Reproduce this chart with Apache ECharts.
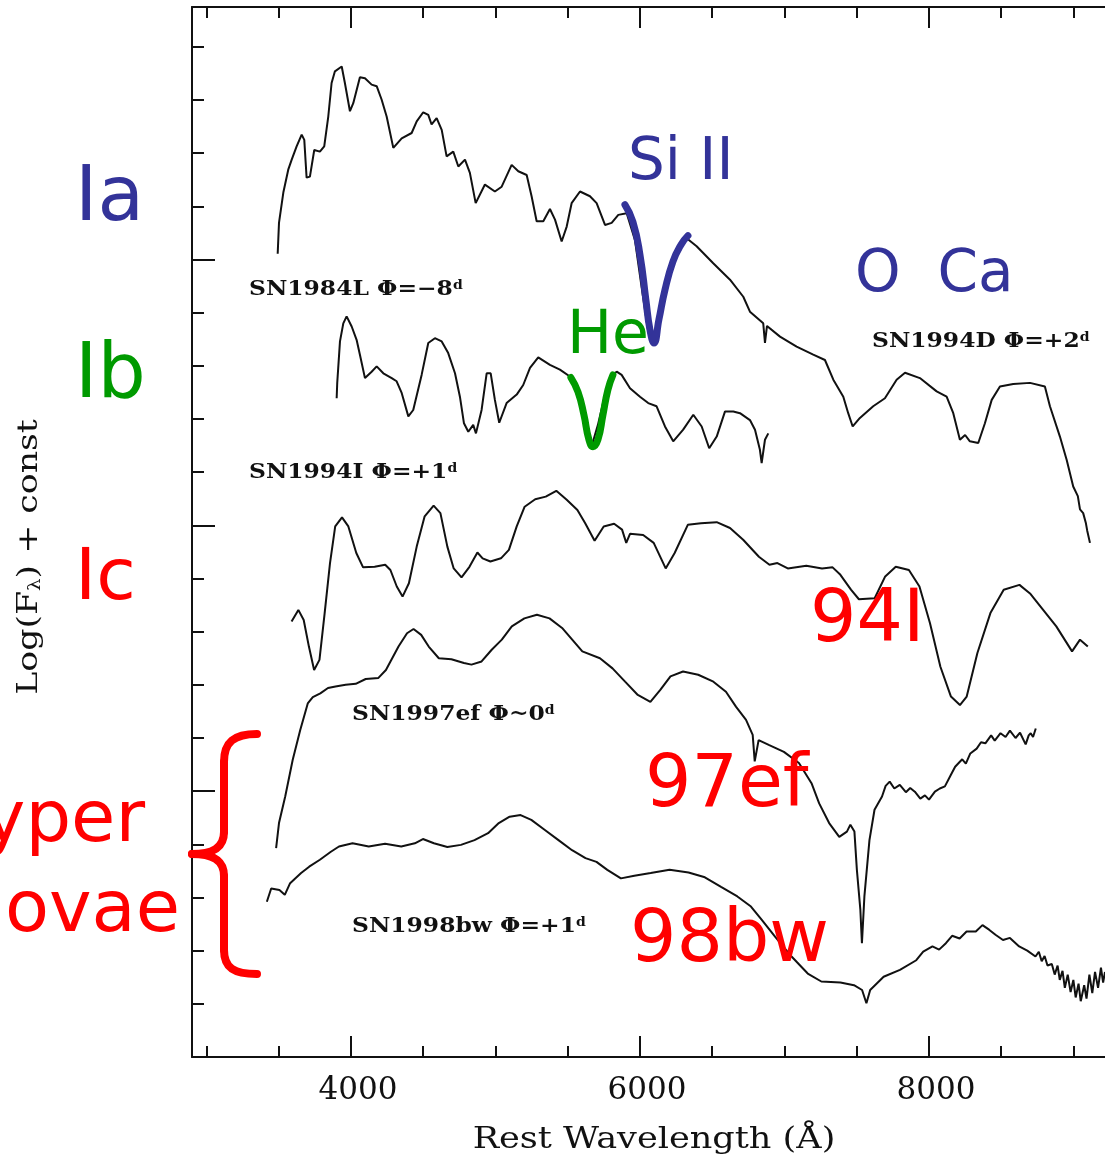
<!DOCTYPE html>
<html>
<head>
<meta charset="utf-8">
<script src="https://cdn.jsdelivr.net/npm/echarts@6/dist/echarts.min.js"></script>
<style>
  html, body { margin: 0; padding: 0; background: #ffffff; }
  #chart { width: 1105px; height: 1157px; }
</style>
</head>
<body>
<div id="chart"></div>
<script>
// Spectra: [rest wavelength (Å), log F + offset] — offsets stack the spectra vertically.
const sn1994D = [
  [3493,15.11],[3502,15.69],[3532,16.26],[3566,16.69],[3590,16.88],[3624,17.13],[3659,17.35],[3677,17.25],
  [3693,16.54],[3716,16.56],[3746,17.06],[3785,17.03],[3815,17.13],[3843,17.69],[3866,18.32],[3889,18.54],
  [3936,18.63],[3958,18.32],[3993,17.79],[4016,17.94],[4062,18.43],[4097,18.41],[4143,18.29],[4178,18.26],
  [4212,18.01],[4247,17.69],[4293,17.10],[4351,17.28],[4420,17.38],[4455,17.60],[4500,17.77],[4535,17.72],
  [4558,17.54],[4593,17.66],[4628,17.44],[4662,16.94],[4708,17.03],[4743,16.75],[4789,16.88],[4823,16.63],
  [4863,16.06],[4927,16.41],[4996,16.28],[5043,16.37],[5112,16.78],[5158,16.66],[5216,16.59],[5250,16.19],
  [5285,15.72],[5331,15.72],[5377,15.95],[5412,15.75],[5458,15.34],[5493,15.62],[5527,16.06],[5585,16.28],
  [5654,16.19],[5700,16.06],[5758,15.65],[5804,15.69],[5850,15.84],[5908,15.87],[5965,15.37],[6014,14.43],
  [6055,13.68],[6090,13.40],[6124,13.87],[6173,14.52],[6242,15.09],[6323,15.40],[6392,15.25],[6507,14.93],
  [6623,14.62],[6715,14.30],[6761,14.02],[6853,13.80],[6865,13.43],[6879,13.75],[6969,13.55],[7084,13.36],
  [7199,13.21],[7280,13.11],[7338,12.74],[7407,12.42],[7441,12.11],[7472,11.86],[7522,12.02],[7614,12.24],
  [7695,12.39],[7776,12.74],[7834,12.87],[7937,12.77],[8053,12.52],[8122,12.42],[8168,12.11],[8214,11.61],
  [8250,11.70],[8283,11.58],[8341,11.55],[8387,11.92],[8434,12.36],[8491,12.61],[8583,12.66],[8699,12.68],
  [8802,12.61],[8837,12.24],[8906,11.67],[8953,11.23],[8998,10.73],[9030,10.55],[9045,10.30],[9067,10.23],
  [9085,10.05],[9095,9.90],[9114,9.67]
];
const sn1984L = [
  [3901,12.39],[3905,12.68],[3924,13.46],[3947,13.80],[3970,13.93],[4005,13.74],[4039,13.49],[4062,13.21],
  [4097,12.77],[4143,12.89],[4178,12.99],[4224,12.86],[4282,12.77],[4316,12.71],[4351,12.49],[4397,12.05],
  [4431,12.17],[4489,12.83],[4535,13.43],[4581,13.52],[4628,13.46],[4673,13.24],[4720,12.86],[4754,12.42],
  [4782,11.92],[4812,11.76],[4846,11.89],[4865,11.73],[4904,12.17],[4939,12.86],[4967,12.86],[4996,12.36],
  [5026,11.93],[5077,12.30],[5147,12.46],[5192,12.64],[5239,12.96],[5296,13.16],[5377,13.02],[5446,12.93],
  [5515,12.80],[5550,12.71],[5599,12.17],[5640,11.70],[5668,11.51],[5709,11.89],[5758,12.46],[5806,12.83],
  [5839,12.89],[5873,12.83],[5931,12.58],[6000,12.42],[6057,12.30],[6115,12.24],[6173,11.86],[6230,11.58],
  [6299,11.80],[6369,12.08],[6427,11.86],[6479,11.45],[6531,11.67],[6588,12.14],[6646,12.14],[6692,12.11],
  [6761,11.98],[6796,11.80],[6830,11.42],[6842,11.17],[6865,11.61],[6888,11.73]
];
const sn1994I = [
  [3589,8.19],[3636,8.41],[3673,8.22],[3709,7.72],[3745,7.28],[3782,7.47],[3818,8.35],[3855,9.29],
  [3891,9.98],[3938,10.15],[3982,9.98],[4037,9.48],[4084,9.21],[4164,9.22],[4237,9.26],[4273,9.16],
  [4317,8.85],[4357,8.66],[4401,8.91],[4455,9.60],[4510,10.17],[4572,10.37],[4619,10.23],[4667,9.60],
  [4711,9.19],[4765,9.02],[4820,9.22],[4875,9.49],[4911,9.38],[4965,9.32],[5038,9.38],[5093,9.54],
  [5147,9.98],[5202,10.35],[5275,10.49],[5348,10.54],[5421,10.65],[5493,10.48],[5567,10.29],[5621,10.04],
  [5686,9.71],[5749,9.98],[5821,10.03],[5876,9.92],[5905,9.67],[5931,9.84],[6022,9.82],[6095,9.67],
  [6178,9.19],[6240,9.48],[6331,10.01],[6422,10.04],[6531,10.06],[6623,9.95],[6714,9.73],[6823,9.41],
  [6896,9.26],[6951,9.29],[7023,9.19],[7151,9.24],[7260,9.19],[7333,9.21],[7387,9.07],[7460,8.79],
  [7515,8.61],[7624,8.63],[7697,9.04],[7770,9.22],[7861,9.16],[7934,8.85],[8007,8.16],[8079,7.34],
  [8152,6.78],[8214,6.62],[8261,6.78],[8335,7.60],[8425,8.35],[8517,8.79],[8626,8.88],[8699,8.72],
  [8790,8.41],[8881,8.10],[8990,7.63],[9045,7.85],[9099,7.72]
];
const sn1997ef = [
  [3482,3.93],[3502,4.40],[3545,4.90],[3597,5.59],[3649,6.15],[3701,6.65],[3736,6.77],[3788,6.84],
  [3841,6.94],[3893,6.97],[3963,7.00],[4033,7.02],[4102,7.11],[4190,7.13],[4242,7.28],[4329,7.72],
  [4388,7.97],[4433,8.05],[4486,7.94],[4538,7.72],[4608,7.50],[4695,7.48],[4782,7.41],[4834,7.38],
  [4904,7.44],[4974,7.66],[5044,7.85],[5113,8.10],[5200,8.25],[5287,8.32],[5374,8.25],[5461,8.07],
  [5531,7.85],[5601,7.63],[5723,7.50],[5810,7.31],[5897,7.06],[5985,6.81],[6072,6.68],[6142,6.91],
  [6211,7.16],[6298,7.25],[6403,7.19],[6508,7.06],[6595,6.87],[6664,6.59],[6734,6.34],[6780,6.06],
  [6794,5.56],[6821,5.96],[6891,5.87],[6996,5.74],[7100,5.53],[7187,5.15],[7240,4.77],[7309,4.40],
  [7379,4.14],[7432,4.24],[7456,4.37],[7484,4.24],[7501,3.52],[7525,2.77],[7536,2.14],[7553,3.02],
  [7588,4.08],[7623,4.65],[7675,4.90],[7700,5.10],[7728,5.18],[7760,5.05],[7798,5.12],[7840,4.98],
  [7870,5.06],[7902,4.99],[7940,4.86],[7972,4.92],[8000,4.84],[8041,4.99],[8075,5.05],[8110,5.09],
  [8150,5.30],[8181,5.46],[8230,5.60],[8255,5.52],[8286,5.71],[8330,5.80],[8360,5.92],[8390,5.90],
  [8430,6.05],[8455,5.95],[8495,6.09],[8530,6.02],[8560,6.14],[8599,6.00],[8630,6.10],[8669,5.88],
  [8690,6.05],[8704,6.09],[8720,6.02],[8739,6.18]
];
const sn1998bw = [
  [3418,2.92],[3448,3.17],[3505,3.14],[3542,3.05],[3579,3.27],[3655,3.46],[3711,3.58],[3785,3.71],
  [3861,3.86],[3917,3.96],[4011,4.02],[4123,3.96],[4236,4.01],[4348,3.96],[4442,4.02],[4498,4.10],
  [4574,4.02],[4667,3.95],[4761,3.99],[4855,4.08],[4949,4.21],[5023,4.40],[5098,4.52],[5174,4.55],
  [5248,4.46],[5342,4.27],[5436,4.08],[5530,3.89],[5623,3.74],[5699,3.67],[5774,3.52],[5868,3.36],
  [5961,3.41],[6074,3.46],[6205,3.52],[6336,3.47],[6449,3.38],[6561,3.20],[6674,3.02],[6768,2.83],
  [6843,2.58],[6936,2.26],[7049,1.89],[7161,1.57],[7255,1.42],[7387,1.40],[7481,1.35],[7537,1.26],
  [7567,1.01],[7593,1.26],[7686,1.51],[7799,1.64],[7912,1.82],[7960,1.98],[8024,2.08],[8070,2.02],
  [8117,2.14],[8160,2.28],[8212,2.23],[8260,2.36],[8324,2.36],[8370,2.48],[8418,2.39],[8460,2.30],
  [8512,2.20],[8560,2.24],[8624,2.08],[8680,2.00],[8737,1.89],[8760,1.98],[8780,1.80],[8800,1.90],
  [8820,1.72],[8850,1.75],[8870,1.55],[8890,1.72],[8905,1.45],[8924,1.62],[8940,1.30],[8960,1.55],
  [8980,1.22],[8999,1.45],[9015,1.12],[9035,1.38],[9050,1.05],[9074,1.35],[9090,1.10],[9110,1.55],
  [9130,1.20],[9149,1.60],[9170,1.30],[9190,1.68],[9205,1.40],[9218,1.60]
];
// Hand-drawn highlight strokes over the Si II and He I absorption troughs.
const siIIMark = [
  [5896,16.03],[5951,15.71],[6000,15.09],[6041,14.24],[6069,13.68],[6097,13.43],[6131,13.87],
  [6173,14.43],[6228,14.96],[6284,15.28],[6332,15.45]
];
const heMark = [
  [5522,12.78],[5571,12.51],[5612,12.08],[5647,11.61],[5675,11.48],[5709,11.61],[5744,12.08],
  [5778,12.55],[5813,12.83]
];

// Axis ticks
const xMajorTicks = [4000, 6000, 8000];
const xMinorTicks = [3000, 3500, 4500, 5000, 5500, 6500, 7000, 7500, 8500, 9000];
const yMajorTicks = [0, 5, 10, 15];
const yMinorTicks = [1, 2, 3, 4, 6, 7, 8, 9, 11, 12, 13, 14, 16, 17, 18, 19];
const xRange = [2900, 9218];
const yRange = [0, 19.75];

// Labels
const spectrumLabels = [
  { name: 'SN1984L', phase: 'Φ=−8', x: 249, y: 290 },
  { name: 'SN1994D', phase: 'Φ=+2', x: 872, y: 342 },
  { name: 'SN1994I', phase: 'Φ=+1', x: 249, y: 473 },
  { name: 'SN1997ef', phase: 'Φ~0', x: 352, y: 715 },
  { name: 'SN1998bw', phase: 'Φ=+1', x: 352, y: 927 }
];

const NAVY = '#333399', GREEN = '#009a00', RED = '#ff0000', INK = '#111111';
const SERIF = '"DejaVu Serif", "Liberation Serif", serif';
const SANS = '"DejaVu Sans", Verdana, sans-serif';

const chart = echarts.init(document.getElementById('chart'), null, { renderer: 'canvas' });

function axisX(position, ticks, len, showLine, showLabel) {
  return {
    type: 'value', gridIndex: 0, position, min: xRange[0], max: xRange[1],
    axisLine: { show: showLine, onZero: false, lineStyle: { color: INK, width: 2 } },
    axisTick: { show: true, inside: true, length: len, customValues: ticks, lineStyle: { color: INK, width: 2 } },
    axisLabel: {
      show: showLabel, customValues: ticks, margin: 18,
      formatter: (v) => String(v),
      fontFamily: SERIF, fontSize: 31, color: INK, padding: [0, 0, 0, 14]
    },
    splitLine: { show: false }
  };
}
function axisY(ticks, len, showLine) {
  return {
    type: 'value', gridIndex: 0, position: 'left', min: yRange[0], max: yRange[1],
    axisLine: { show: showLine, onZero: false, lineStyle: { color: INK, width: 2 } },
    axisTick: { show: true, inside: true, length: len, customValues: ticks, lineStyle: { color: INK, width: 2 } },
    axisLabel: { show: false },
    splitLine: { show: false }
  };
}

function spectrum(name, data) {
  return {
    name, type: 'line', data, xAxisIndex: 0, yAxisIndex: 0,
    showSymbol: false, smooth: false, z: 3,
    lineStyle: { color: INK, width: 2 }, emphasis: { disabled: true }
  };
}
function stroke(name, data, color) {
  return {
    name, type: 'line', data, xAxisIndex: 0, yAxisIndex: 0,
    showSymbol: false, smooth: 0.5, z: 5,
    lineStyle: { color, width: 7, cap: 'round', join: 'round' }, emphasis: { disabled: true }
  };
}

function bigText(text, x, y, size, color, align) {
  return {
    type: 'text', x, y, z: 20,
    style: { text, font: `${size}px ${SANS}`, fill: color, textAlign: align || 'left', textVerticalAlign: 'middle', verticalAlign: 'middle' }
  };
}
function snLabel(l) {
  return {
    type: 'text', x: l.x, y: l.y, z: 20, scaleX: 1.17,
    style: {
      text: `${l.name} ${l.phase}{s|d}`,
      font: `bold 20px ${SERIF}`, fill: INK, textAlign: 'left', textVerticalAlign: 'middle', verticalAlign: 'middle',
      rich: { s: { font: `bold 12px ${SERIF}`, fill: INK, verticalAlign: 'top' } }
    }
  };
}
// Curly brace grouping the hypernovae, built from bezier segments and straight runs.
function braceSeg(type, shape) {
  return { type, z: 20, shape, style: { stroke: RED, lineWidth: 8, fill: null, lineCap: 'round' } };
}
const brace = [
  braceSeg('bezierCurve', { x1: 257, y1: 734, cpx1: 234, cpy1: 734, cpx2: 224, cpy2: 742, x2: 224, y2: 762 }),
  braceSeg('line', { x1: 224, y1: 762, x2: 224, y2: 832 }),
  braceSeg('bezierCurve', { x1: 224, y1: 832, cpx1: 224, cpy1: 848, cpx2: 212, cpy2: 854, x2: 192, y2: 854 }),
  braceSeg('bezierCurve', { x1: 192, y1: 854, cpx1: 212, cpy1: 854, cpx2: 224, cpy2: 860, x2: 224, y2: 876 }),
  braceSeg('line', { x1: 224, y1: 876, x2: 224, y2: 950 }),
  braceSeg('bezierCurve', { x1: 224, y1: 950, cpx1: 224, cpy1: 968, cpx2: 234, cpy2: 974, x2: 257, y2: 974 })
];

const graphics = [
  bigText('Ia', 75, 200, 76, NAVY),
  bigText('Si II', 628, 164, 58, NAVY),
  bigText('O  Ca', 855, 276, 58, NAVY),
  bigText('He', 567, 337, 60, GREEN),
  bigText('Ib', 75, 377, 76, GREEN),
  bigText('Ic', 75, 580, 72, RED),
  bigText('94I', 810, 622, 73, RED),
  bigText('97ef', 645, 787, 73, RED),
  bigText('98bw', 630, 942, 73, RED),
  bigText('Hyper', 145, 822, 72, RED, 'right'),
  bigText('novae', 180, 912, 72, RED, 'right'),
  {
    type: 'text', x: 30, y: 557, rotation: Math.PI / 2, z: 20, scaleX: 1.24,
    style: {
      text: 'Log(F{s|λ}) + const', font: `28px ${SERIF}`, fill: INK,
      textAlign: 'center', textVerticalAlign: 'middle', verticalAlign: 'middle',
      rich: { s: { font: `16px ${SERIF}`, fill: INK, verticalAlign: 'bottom' } }
    }
  },
  {
    type: 'text', x: 654, y: 1140, z: 20, scaleX: 1.17,
    style: { text: 'Rest Wavelength (Å)', font: `30px ${SERIF}`, fill: INK, textAlign: 'center', textVerticalAlign: 'middle', verticalAlign: 'middle' }
  }
].concat(brace, spectrumLabels.map(snLabel));

chart.setOption({
  animation: false,
  backgroundColor: '#ffffff',
  grid: { left: 192, right: 0, top: 7, bottom: 100, containLabel: false },
  xAxis: [
    axisX('bottom', xMajorTicks, 21, true, true),
    axisX('bottom', xMinorTicks, 11, false, false),
    axisX('top', xMajorTicks, 21, true, false),
    axisX('top', xMinorTicks, 11, false, false)
  ],
  yAxis: [
    axisY(yMajorTicks, 23, true),
    axisY(yMinorTicks, 12, false)
  ],
  series: [
    spectrum('SN1994D', sn1994D),
    spectrum('SN1984L', sn1984L),
    spectrum('SN1994I', sn1994I),
    spectrum('SN1997ef', sn1997ef),
    spectrum('SN1998bw', sn1998bw),
    stroke('Si II', siIIMark, NAVY),
    stroke('He I', heMark, GREEN)
  ],
  graphic: graphics
});
</script>
</body>
</html>
